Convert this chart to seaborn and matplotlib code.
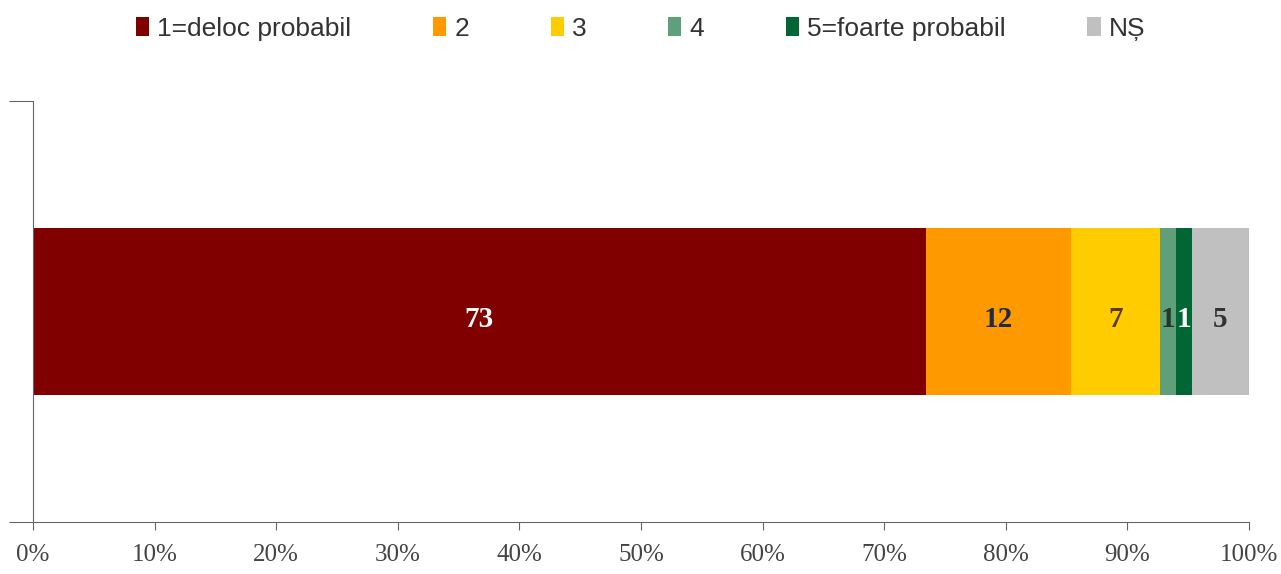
import matplotlib
matplotlib.use('Agg')
import matplotlib.pyplot as plt
import seaborn as sns
import pandas as pd
import numpy as np
from matplotlib.patches import Patch
from matplotlib.ticker import PercentFormatter

# categories and values (share of respondents, %)
categories = ['1=deloc probabil', '2', '3', '4', '5=foarte probabil', 'NȘ']
values = [73.4, 12.0, 7.3, 1.3, 1.3, 4.7]
colors = ['#800000', '#FF9900', '#FFCC00', '#5FA07A', '#006633', '#C0C0C0']
label_colors = ['white', '#1F2A44', '#5A3A1A', '#1F3A2A', 'white', '#333333']

sns.set_style('white')
plt.rcParams['font.family'] = ['Liberation Sans', 'DejaVu Sans']

fig = plt.figure(figsize=(12.81, 5.74), dpi=100)
ax = fig.add_axes([0.0258, 0.0906, 0.9492, 0.7334])

# normalise to 100% and build cumulative widths for stacking
pct = np.array(values) / sum(values) * 100
cum = np.cumsum(pct)
df = pd.DataFrame({'row': ['r'] * len(categories), 'cat': categories, 'cum': cum})

# draw cumulative bars from the widest to the narrowest
for i in range(len(categories) - 1, -1, -1):
    sns.barplot(data=df.iloc[[i]], x='cum', y='row', orient='h', color=colors[i],
                width=0.397, saturation=1, ax=ax, linewidth=0)

# segment labels
starts = cum - pct
for i, v in enumerate(values):
    ax.text(starts[i] + pct[i] / 2, 0.02, f'{round(v):d}', ha='center', va='center',
            fontsize=21, fontweight='bold', color=label_colors[i],
            family=['Liberation Serif', 'DejaVu Serif'])

ax.set_xlim(0, 100)
ax.set_ylim(0.5, -0.5)
ax.set_xticks(np.arange(0, 101, 10))
ax.xaxis.set_major_formatter(PercentFormatter(decimals=0))
ax.set_yticks([-0.5, 0.5])
ax.set_yticklabels([])
ax.set_xlabel('')
ax.set_ylabel('')
for lab in ax.get_xticklabels():
    lab.set_fontfamily(['Liberation Serif', 'DejaVu Serif'])
    lab.set_fontsize(18)
    lab.set_color('#444444')
ax.tick_params(axis='x', direction='out', length=6, width=0.8, color='#666666', pad=10, bottom=True)
ax.tick_params(axis='y', direction='out', length=17, width=0.8, color='#666666', left=True)
ax.spines['top'].set_visible(False)
ax.spines['right'].set_visible(False)
for s in ['left', 'bottom']:
    ax.spines[s].set_color('#666666')
    ax.spines[s].set_linewidth(0.8)

handles = [Patch(facecolor=c, edgecolor='none') for c in colors]
fig.legend(handles, categories, loc='center', bbox_to_anchor=(0.5, 0.95), ncol=6,
           frameon=False, fontsize=19, handlelength=0.5, handleheight=0.75,
           handletextpad=0.3, columnspacing=3.1, labelcolor='#333333')

fig.savefig('out.png', dpi=100)
